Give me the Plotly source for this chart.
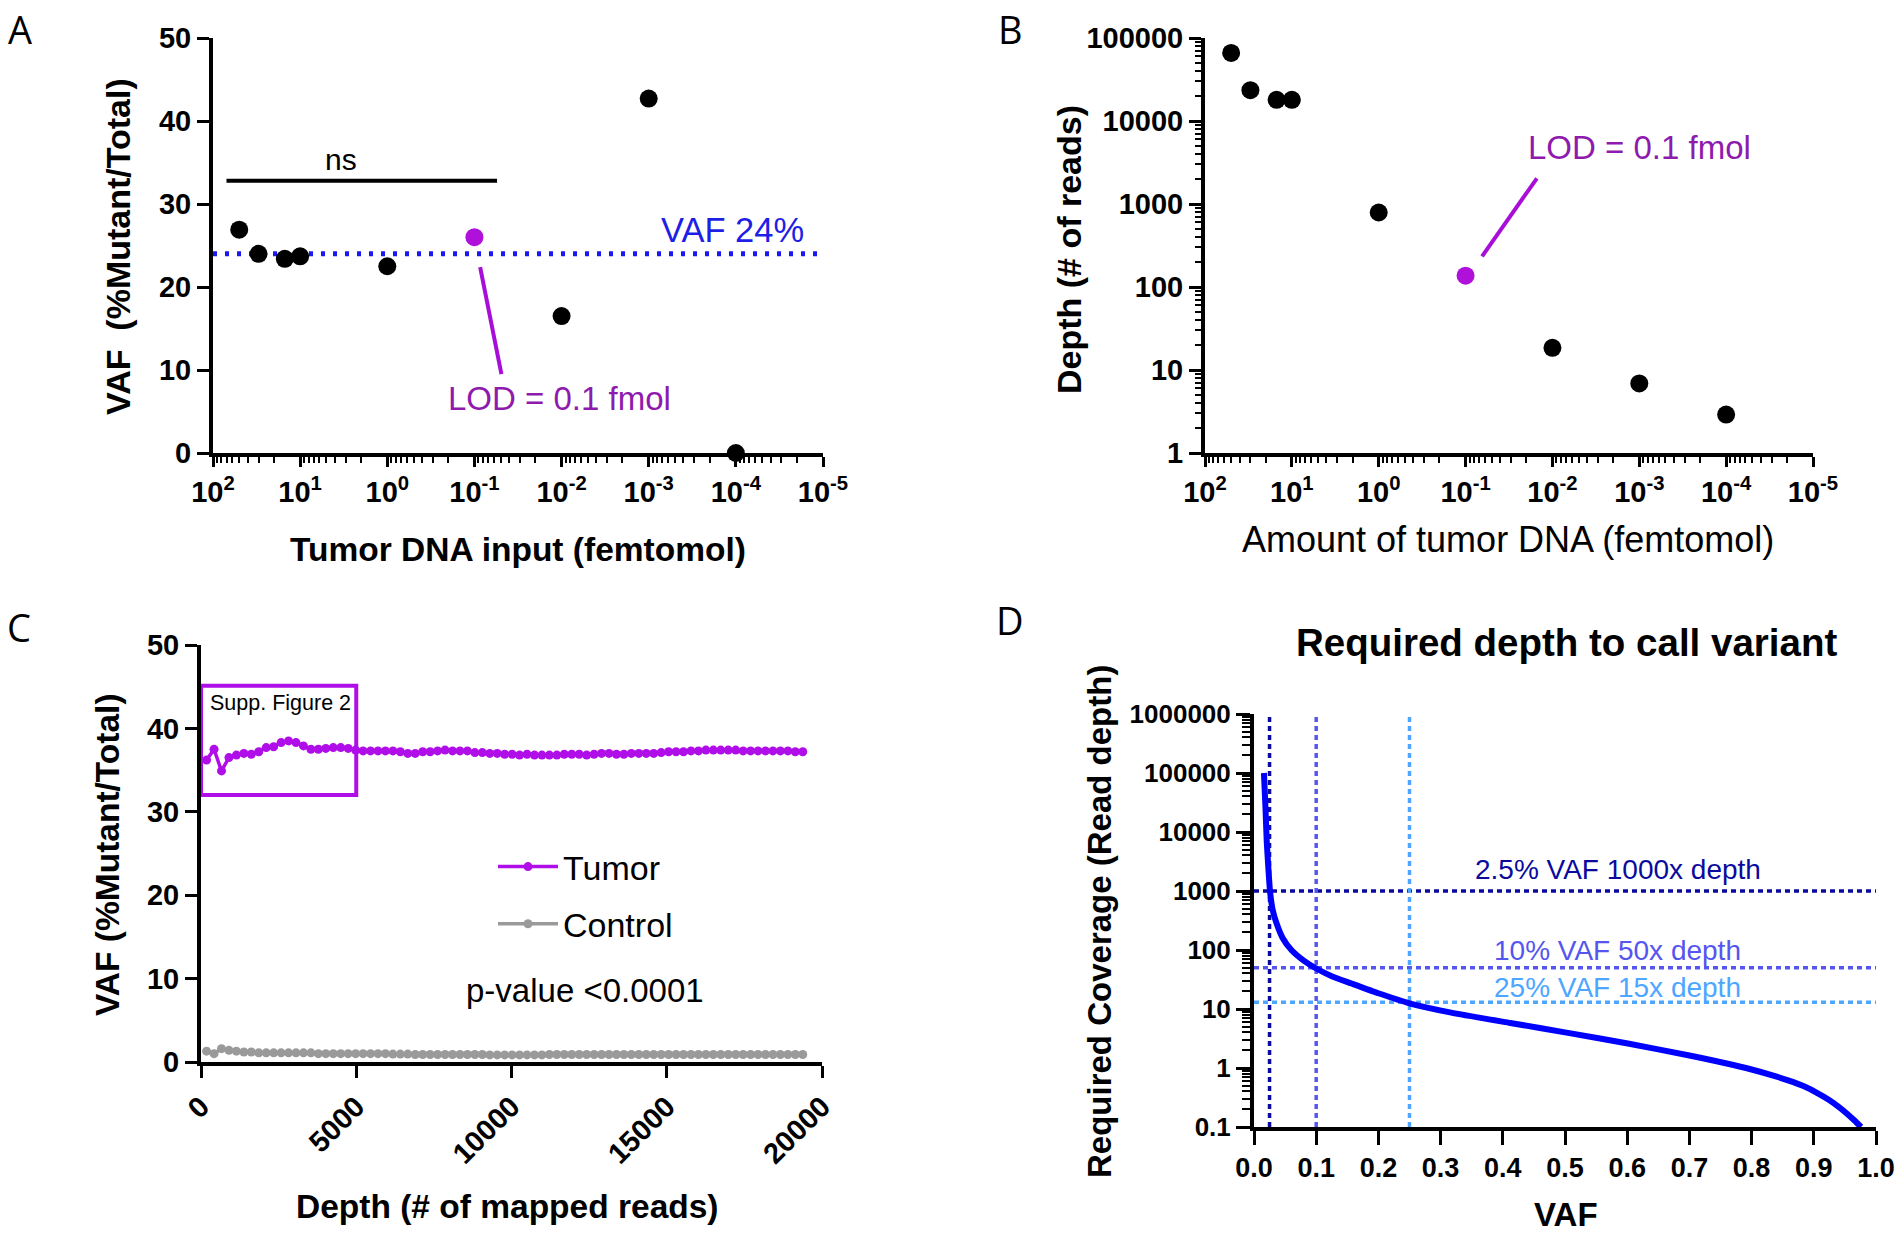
import math
import plotly.graph_objects as go

W, H = 1904, 1236
FONT = "Liberation Sans, Arial, sans-serif"
PURPLE = "#B011DA"
PURPLE_TXT = "#8E1AAE"
TUMOR = "#B00EE8"
GRAY = "#9A9A9A"

# ---------------- Panel A / B data ----------------
fmol_input = [50, 30, 15, 10, 1, 0.1, 0.01, 0.001, 0.0001]
vaf_a = [26.9, 24.0, 23.4, 23.7, 22.5, 26.0, 16.5, 42.7, 0.0]
depth_b = [66000, 23500, 18000, 18000, 790, 137, 18.5, 6.9, 2.9]
lod_index = 5
vaf_ref_a = 24
ns_span = [70, 0.055]
ns_level = 32.8
fmol_ticks = [100, 10, 1, 0.1, 0.01, 0.001, 0.0001, 0.00001]
fmol_tick_text = ["10<sup>2</sup>", "10<sup>1</sup>", "10<sup>0</sup>", "10<sup>-1</sup>",
                  "10<sup>-2</sup>", "10<sup>-3</sup>", "10<sup>-4</sup>", "10<sup>-5</sup>"]
depth_ticks = [1, 10, 100, 1000, 10000, 100000]
# LOD pointer lines (x in fmol, y in panel units)
lod_ptr_a_x = [0.086, 0.049]
lod_ptr_a_y = [22.4, 9.5]
lod_ptr_b_x = [0.0646, 0.0151]
lod_ptr_b_y = [234, 2040]

# ---------------- Panel C data ----------------
depth_c = [180, 420, 660, 900, 1140, 1380, 1620, 1860, 2100, 2340,
           2580, 2820, 3060, 3300, 3540, 3780, 4020, 4260, 4500, 4740,
           4980, 5220, 5460, 5700, 5940, 6180, 6420, 6660, 6900, 7140,
           7380, 7620, 7860, 8100, 8340, 8580, 8820, 9060, 9300, 9540,
           9780, 10020, 10260, 10500, 10740, 10980, 11220, 11460, 11700, 11940,
           12180, 12420, 12660, 12900, 13140, 13380, 13620, 13860, 14100, 14340,
           14580, 14820, 15060, 15300, 15540, 15780, 16020, 16260, 16500, 16740,
           16980, 17220, 17460, 17700, 17940, 18180, 18420, 18660, 18900, 19140,
           19380]
tumor_vaf = [36.2, 37.5, 34.9, 36.5, 36.8, 37.0, 36.9, 37.2, 37.7, 37.8,
             38.3, 38.5, 38.3, 37.9, 37.5, 37.5, 37.6, 37.7, 37.7, 37.6,
             37.4, 37.3, 37.3, 37.3, 37.3, 37.3, 37.2, 37.0, 37.0, 37.2,
             37.2, 37.3, 37.4, 37.3, 37.3, 37.3, 37.1, 37.1, 37.0, 37.0,
             36.9, 36.9, 36.8, 36.9, 36.8, 36.8, 36.8, 36.8, 36.9, 36.9,
             36.9, 36.8, 36.9, 37.0, 37.0, 36.9, 36.9, 37.0, 37.0, 37.0,
             37.0, 37.1, 37.2, 37.2, 37.2, 37.3, 37.3, 37.4, 37.4, 37.4,
             37.4, 37.4, 37.3, 37.3, 37.3, 37.3, 37.3, 37.3, 37.3, 37.2,
             37.2]
control_vaf = [1.3, 1.0, 1.6, 1.4, 1.3, 1.2, 1.2, 1.1, 1.1, 1.1,
               1.1, 1.1, 1.1, 1.1, 1.1, 1.0, 1.0, 1.0, 1.0, 1.0,
               1.0, 1.0, 1.0, 1.0, 1.0, 0.95, 0.95, 0.95, 0.9, 0.9,
               0.9, 0.9, 0.9, 0.9, 0.9, 0.9, 0.9, 0.9, 0.85, 0.85,
               0.85, 0.85, 0.85, 0.85, 0.85, 0.85, 0.9, 0.9, 0.9, 0.9,
               0.9, 0.9, 0.9, 0.9, 0.9, 0.9, 0.9, 0.9, 0.9, 0.9,
               0.9, 0.9, 0.9, 0.9, 0.9, 0.9, 0.9, 0.9, 0.9, 0.9,
               0.9, 0.9, 0.9, 0.9, 0.9, 0.9, 0.9, 0.9, 0.9, 0.9,
               0.9]
supp_box_x = [0, 5000]
supp_box_y = [32.0, 45.1]

# ---------------- Panel D data ----------------
vaf_d = [0.016, 0.0185, 0.0204, 0.0230, 0.0257, 0.030, 0.0364, 0.046, 0.0605, 0.080,
         0.098, 0.125, 0.157, 0.200, 0.250, 0.317, 0.412, 0.507, 0.601, 0.696,
         0.740, 0.791, 0.839, 0.860, 0.886, 0.905, 0.924, 0.940, 0.953, 0.965, 0.976]
cov_d = [100000, 25000, 7200, 2500, 1000, 480, 280, 160, 99, 66,
         50, 36, 27, 18.5, 12.5, 8.7, 5.8, 3.9, 2.6, 1.66,
         1.33, 1.0, 0.72, 0.61, 0.48, 0.38, 0.29, 0.22, 0.17, 0.13, 0.1]
ref_vaf = [0.025, 0.10, 0.25]
ref_cov = [1000, 50, 13]
ref_colors = ["#0A0A9E", "#5555F0", "#4DA6FF"]
ref_labels = ["2.5% VAF 1000x depth", "10% VAF 50x depth", "25% VAF 15x depth"]
ref_label_y = [2340, 99, 23]
cov_ticks = [0.1, 1, 10, 100, 1000, 10000, 100000, 1000000]
cov_tick_text = ["0.1", "1", "10", "100", "1000", "10000", "100000", "1000000"]


def px_dom_x(a, b):
    return [a / W, b / W]


def px_dom_y(top, bottom):
    return [1 - bottom / H, 1 - top / H]


def tickfont(size):
    return dict(family=FONT, size=size, color="black", weight="bold")


def axis(**kw):
    base = dict(showline=True, linewidth=4, linecolor="black", ticks="outside",
                tickwidth=3, tickcolor="black", ticklen=12, showgrid=False,
                zeroline=False, tickfont=tickfont(29), mirror=False, automargin=False)
    base.update(kw)
    return base


MINOR = dict(ticks="outside", ticklen=6, tickwidth=2, tickcolor="black", dtick="D1", showgrid=False)

fig = go.Figure()

# ---- Panel A ----
colors_pts = ["black"] * len(fmol_input)
colors_pts[lod_index] = PURPLE
fig.add_trace(go.Scatter(x=[fmol_ticks[0], fmol_ticks[-1]], y=[vaf_ref_a, vaf_ref_a], mode="lines",
                         line=dict(color="#1A1AF0", width=5, dash="4px,8px"),
                         xaxis="x", yaxis="y", showlegend=False, hoverinfo="skip"))
fig.add_trace(go.Scatter(x=ns_span, y=[ns_level, ns_level], mode="lines",
                         line=dict(color="black", width=4),
                         xaxis="x", yaxis="y", showlegend=False))
fig.add_trace(go.Scatter(x=lod_ptr_a_x, y=lod_ptr_a_y, mode="lines",
                         line=dict(color="#A70FD8", width=4),
                         xaxis="x", yaxis="y", showlegend=False))
fig.add_trace(go.Scatter(x=fmol_input, y=vaf_a, mode="markers",
                         marker=dict(color=colors_pts, size=18),
                         xaxis="x", yaxis="y", showlegend=False, cliponaxis=False))

# ---- Panel B ----
fig.add_trace(go.Scatter(x=lod_ptr_b_x, y=lod_ptr_b_y, mode="lines",
                         line=dict(color="#A70FD8", width=4),
                         xaxis="x2", yaxis="y2", showlegend=False))
fig.add_trace(go.Scatter(x=fmol_input, y=depth_b, mode="markers",
                         marker=dict(color=colors_pts, size=18),
                         xaxis="x2", yaxis="y2", showlegend=False, cliponaxis=False))

# ---- Panel C ----
fig.add_trace(go.Scatter(x=depth_c, y=tumor_vaf, mode="lines+markers", name="Tumor",
                         line=dict(color=TUMOR, width=3.5), marker=dict(color=TUMOR, size=9),
                         xaxis="x3", yaxis="y3", legendgroup="t", cliponaxis=False))
fig.add_trace(go.Scatter(x=depth_c, y=control_vaf, mode="lines+markers", name="Control",
                         line=dict(color=GRAY, width=3.5), marker=dict(color=GRAY, size=9),
                         xaxis="x3", yaxis="y3", legendgroup="c", cliponaxis=False))

# ---- Panel D ----
for v, c, col in zip(ref_vaf, ref_cov, ref_colors):
    fig.add_trace(go.Scatter(x=[0, 1], y=[c, c], mode="lines",
                             line=dict(color=col, width=3.5, dash="5px,4px"),
                             xaxis="x4", yaxis="y4", showlegend=False, cliponaxis=False))
    fig.add_trace(go.Scatter(x=[v, v], y=[cov_ticks[0], cov_ticks[-1]], mode="lines",
                             line=dict(color=col, width=3.5, dash="5px,4px"),
                             xaxis="x4", yaxis="y4", showlegend=False, cliponaxis=False))
fig.add_trace(go.Scatter(x=vaf_d, y=cov_d, mode="lines",
                         line=dict(color="#0000FF", width=6, shape="spline", smoothing=0.5),
                         xaxis="x4", yaxis="y4", showlegend=False, cliponaxis=False))

# ---------------- Layout ----------------
layout = dict(
    template="none",
    width=W, height=H, margin=dict(l=0, r=0, t=0, b=0, pad=0, autoexpand=False),
    paper_bgcolor="white", plot_bgcolor="rgba(0,0,0,0)",
    font=dict(family=FONT, color="black"),
    xaxis=axis(domain=px_dom_x(213, 823), anchor="y", type="log", range=[2, -5],
               tickvals=fmol_ticks, ticktext=fmol_tick_text, ticklen=10, minor=MINOR),
    yaxis=axis(domain=px_dom_y(38, 453), anchor="x", range=[0, 50], dtick=10, tick0=0),
    xaxis2=axis(domain=px_dom_x(1205, 1813), anchor="y2", type="log", range=[2, -5],
                tickvals=fmol_ticks, ticktext=fmol_tick_text, ticklen=10, minor=MINOR),
    yaxis2=axis(domain=px_dom_y(38, 453), anchor="x2", type="log", range=[0, 5],
                tickvals=depth_ticks, ticktext=[str(t) for t in depth_ticks], minor=MINOR),
    xaxis3=axis(domain=px_dom_x(201, 822), anchor="y3", range=[0, 20000], dtick=5000, tick0=0,
                tickangle=-45, tickformat="d"),
    yaxis3=axis(domain=px_dom_y(645, 1062), anchor="x3", range=[0, 50], dtick=10, tick0=0),
    xaxis4=axis(domain=px_dom_x(1254, 1876), anchor="y4", range=[0, 1], dtick=0.1, tick0=0,
                tickformat=".1f", ticklen=14, tickfont=tickfont(27)),
    yaxis4=axis(domain=px_dom_y(714, 1127), anchor="x4", type="log", range=[-1, 6],
                tickvals=cov_ticks, ticktext=cov_tick_text, ticklen=14, tickfont=tickfont(26),
                minor=dict(ticks="outside", ticklen=8, tickwidth=2, tickcolor="black", dtick="D1", showgrid=False)),
    legend=dict(x=493 / W, y=1 - 838 / H, xanchor="left", yanchor="top",
                font=dict(family=FONT, size=34, color="black"), itemwidth=60,
                bgcolor="rgba(0,0,0,0)", tracegroupgap=10),
    showlegend=True,
)

annotations = []


def ann(text, x, y, xref="paper", yref="paper", size=32, color="black", bold=False,
        angle=0, xanchor="center", yanchor="middle", family=FONT):
    annotations.append(dict(text=text, x=x, y=y, xref=xref, yref=yref, showarrow=False,
                            textangle=angle, xanchor=xanchor, yanchor=yanchor,
                            font=dict(family=family, size=size, color=color,
                                      weight="bold" if bold else "normal")))


# Panel letters
LETTER_FONT = "Open Sans, Lato, sans-serif"
ann("A", 20 / W, 1 - 29 / H, size=38, family=LETTER_FONT)
ann("B", 1010 / W, 1 - 29 / H, size=38, family=LETTER_FONT)
ann("C", 19 / W, 1 - 627 / H, size=38, family=LETTER_FONT)
ann("D", 1010 / W, 1 - 620 / H, size=38, family=LETTER_FONT)

# Axis titles
ann("VAF  (%Mutant/Total)", 118 / W, 1 - 247 / H, size=34, bold=True, angle=-90)
ann("Tumor DNA input (femtomol)", 518 / W, 1 - 549 / H, size=33.5, bold=True)
ann("Depth (# of reads)", 1069 / W, 1 - 250 / H, size=34, bold=True, angle=-90)
ann("Amount of tumor DNA (femtomol)", 1508 / W, 1 - 539 / H, size=36)
ann("VAF (%Mutant/Total)", 107 / W, 1 - 855 / H, size=33.5, bold=True, angle=-90)
ann("Depth (# of mapped reads)", 507 / W, 1 - 1206 / H, size=33.5, bold=True)
ann("Required Coverage (Read depth)", 1099 / W, 1 - 922 / H, size=33, bold=True, angle=-90)
ann("VAF", 1566 / W, 1 - 1214 / H, size=33, bold=True)
ann("Required depth to call variant", 1566 / W, 1 - 642 / H, size=38.5, bold=True)

# Panel A texts
ann("ns", math.log10(3.43), 35.4, xref="x", yref="y", size=30)
ann("VAF 24%", math.log10(0.000108), 26.9, xref="x", yref="y", size=34.5, color="#1E1EE6")
ann("LOD = 0.1 fmol", math.log10(0.0105), 6.6, xref="x", yref="y", size=33, color=PURPLE_TXT)
# Panel B text
ann("LOD = 0.1 fmol", math.log10(0.001), math.log10(4750), xref="x2", yref="y2", size=33, color=PURPLE_TXT)
# Panel C texts
ann("Supp. Figure 2", 240, 43.0, xref="x3", yref="y3", size=21.5, xanchor="left")
ann("p-value <0.0001", 12370, 8.6, xref="x3", yref="y3", size=33)
# Panel D labels
for lab, col, ly in zip(ref_labels, ref_colors, ref_label_y):
    ann(lab, 0.585, math.log10(ly), xref="x4", yref="y4", size=28, color=col)

layout["annotations"] = annotations
layout["shapes"] = [dict(type="rect", xref="x3", yref="y3", x0=supp_box_x[0], x1=supp_box_x[1],
                         y0=supp_box_y[0], y1=supp_box_y[1], line=dict(color=TUMOR, width=4),
                         fillcolor="rgba(0,0,0,0)", layer="above")]

fig.update_layout(**layout)
fig.write_html("out.html", config={"displayModeBar": False},
               post_script="document.body.style.margin='0px';")
